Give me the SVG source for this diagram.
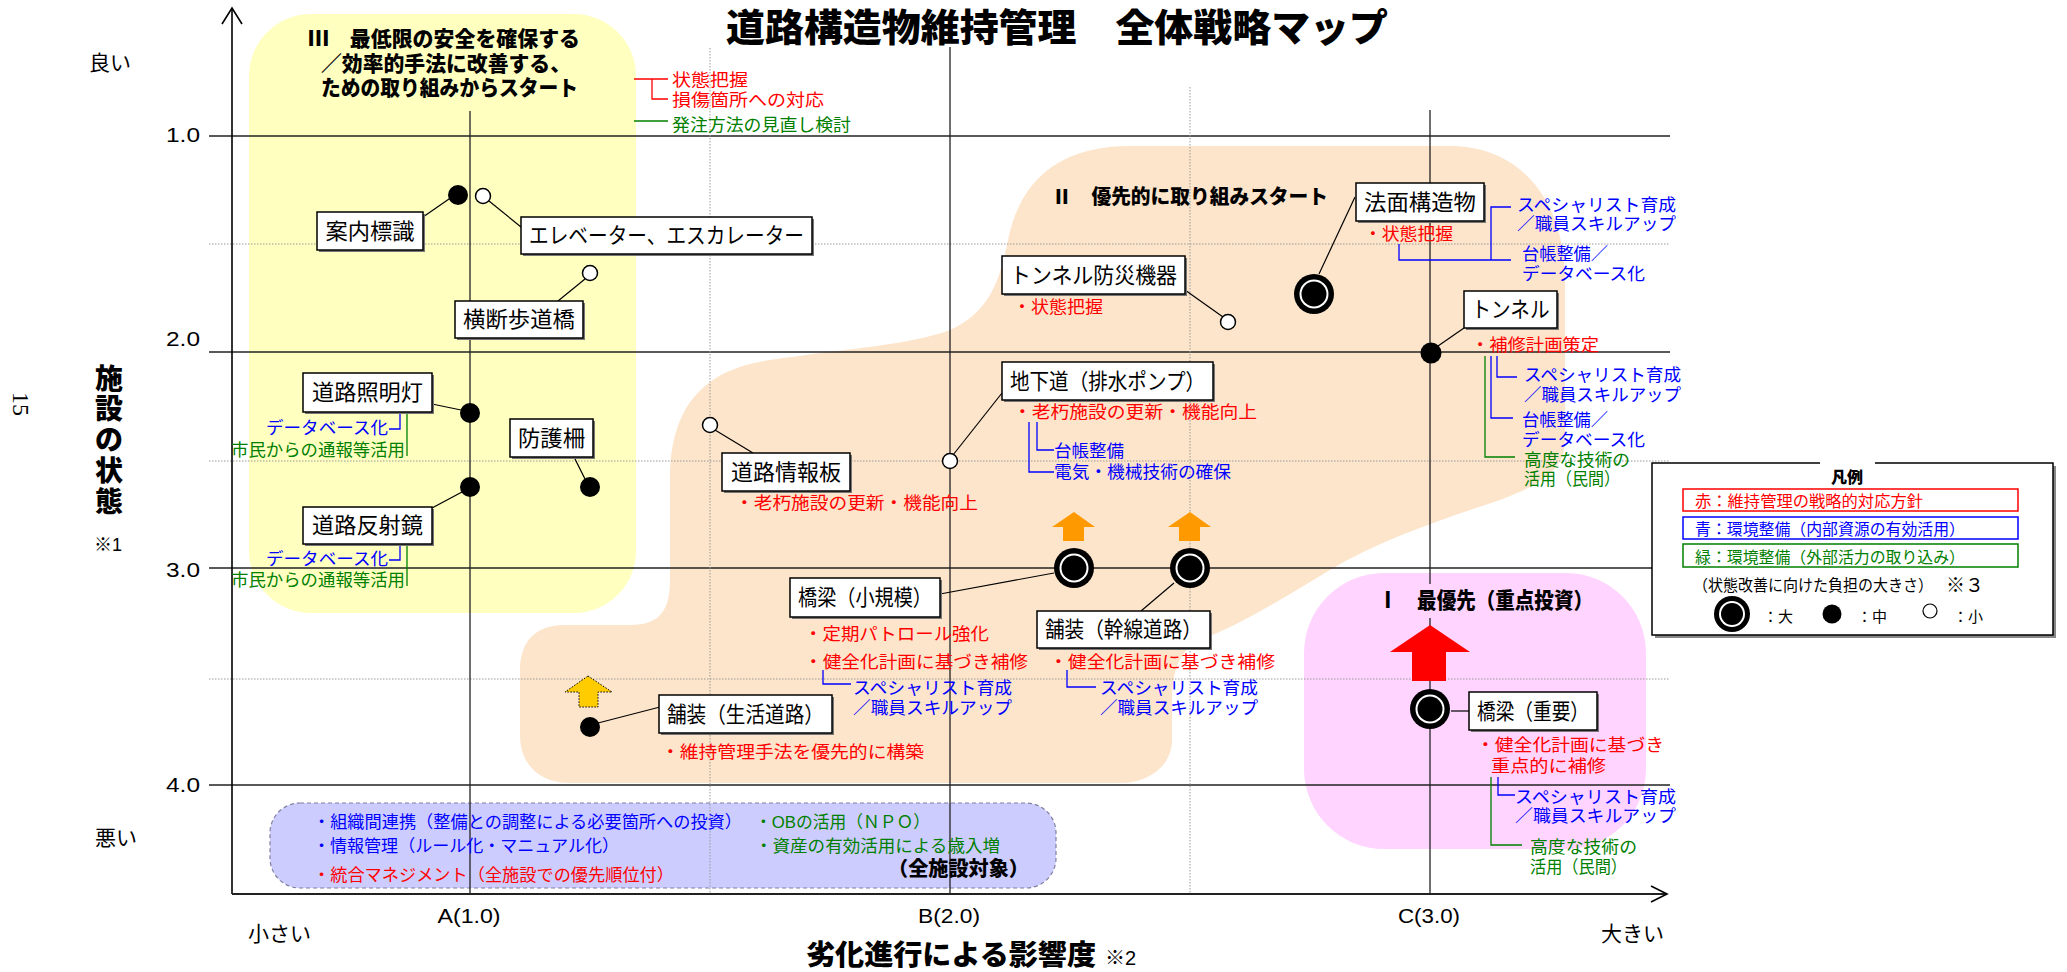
<svg xmlns="http://www.w3.org/2000/svg" width="2067" height="972" viewBox="0 0 2067 972">
<defs>
<style>
text{font-family:"Liberation Sans","Noto Sans CJK JP",sans-serif;}
.box{fill:#fff;stroke:#000;stroke-width:1.5}
.sh{fill:#777}
.lbl{font-size:22px;fill:#000;text-anchor:middle}
.ann{font-size:17.5px}
.sm{font-size:17px}
.r{fill:#f00}.b{fill:#00f}.g{fill:#008000}.k{fill:#000}
.bold{font-weight:900}
.lead{stroke:#000;stroke-width:1.2;fill:none}
.br-r{stroke:#f00;stroke-width:1.3;fill:none}
.br-b{stroke:#00f;stroke-width:1.3;fill:none}
.br-g{stroke:#008000;stroke-width:1.3;fill:none}
.grid{stroke:#222;stroke-width:1.3}
.dot{stroke:#999;stroke-width:1;stroke-dasharray:1.5 1.5}
.mid{fill:#000}
.small{fill:#fff;stroke:#000;stroke-width:1.5}
.ax{font-size:21px;fill:#000}
</style>
<g id="big">
<circle r="20" fill="#000"/><circle r="14.5" fill="#fff"/><circle r="12.5" fill="#000"/>
</g>
</defs>
<rect width="2067" height="972" fill="#fff"/>

<g id="regions">
<rect x="249" y="14" width="387" height="599" rx="62" fill="#FFFFC0"/>
<path d="M1130,146 L1450,146 C1520,146 1565,200 1565,280 L1565,440 C1565,470 1540,485 1500,500 C1440,520 1380,540 1330,570 C1280,600 1240,625 1200,640 C1180,650 1172,670 1172,700 L1172,740 C1172,765 1150,783 1120,783 L570,783 C540,783 520,765 520,735 L520,670 C520,642 535,625 565,625 L630,625 C660,625 670,610 670,580 L670,480 C670,410 700,370 770,360 C850,348 910,345 950,330 C990,312 1000,280 1008,240 C1020,180 1060,146 1130,146 Z" fill="#FDE5CB"/>
<rect x="1304" y="573" width="342" height="276" rx="80" fill="#FFD5FF"/>
<rect x="270" y="803" width="786" height="85" rx="30" fill="#CCCCFF" stroke="#7F7FA0" stroke-width="1.2" stroke-dasharray="4 3"/>
</g>

<g id="grid">
<line class="grid" x1="209" y1="136" x2="1670" y2="136"/>
<line class="grid" x1="209" y1="352" x2="1670" y2="352"/>
<line class="grid" x1="209" y1="568" x2="1670" y2="568"/>
<line class="grid" x1="209" y1="785" x2="1670" y2="785"/>
<line class="dot" x1="209" y1="244" x2="1670" y2="244"/>
<line class="dot" x1="209" y1="461" x2="1670" y2="461"/>
<line class="dot" x1="209" y1="679" x2="1670" y2="679"/>
<line class="grid" x1="470" y1="111" x2="470" y2="894"/>
<line class="grid" x1="950" y1="47" x2="950" y2="894"/>
<line class="grid" x1="1430" y1="110" x2="1430" y2="894"/>
<line class="dot" x1="710" y1="48" x2="710" y2="894"/>
<line class="dot" x1="1190" y1="87" x2="1190" y2="894"/>
</g>

<g id="axes">
<line x1="232" y1="894" x2="232" y2="8" stroke="#000" stroke-width="1.6"/>
<path d="M222,24 L232,8 L242,24" fill="none" stroke="#000" stroke-width="1.6"/>
<line x1="232" y1="894" x2="1667" y2="894" stroke="#222" stroke-width="2.2"/>
<path d="M1651,886 L1667,894 L1651,902" fill="none" stroke="#000" stroke-width="1.6"/>
</g>

<g id="axis-labels">
<text class="ax" x="89" y="70" font-size="20">良い</text>
<text class="ax" x="95" y="845" font-size="20">悪い</text>
<text class="ax" x="200" y="142" text-anchor="end" textLength="34" lengthAdjust="spacingAndGlyphs">1.0</text>
<text class="ax" x="200" y="346" text-anchor="end" textLength="34" lengthAdjust="spacingAndGlyphs">2.0</text>
<text class="ax" x="200" y="577" text-anchor="end" textLength="34" lengthAdjust="spacingAndGlyphs">3.0</text>
<text class="ax" x="200" y="792" text-anchor="end" textLength="34" lengthAdjust="spacingAndGlyphs">4.0</text>
<text class="bold" x="109" font-size="28" text-anchor="middle" fill="#000"><tspan x="109" y="389">施</tspan><tspan x="109" y="419">設</tspan><tspan x="109" y="450">の</tspan><tspan x="109" y="481">状</tspan><tspan x="109" y="512">態</tspan></text>
<text x="94" y="551" font-size="18" fill="#000">※1</text>
<text transform="translate(13,404) rotate(90)" text-anchor="middle" font-size="24" fill="#000" style="font-family:'Liberation Serif',serif">15</text>
<text class="ax" x="248" y="941" font-size="20">小さい</text>
<text class="ax" x="469" y="923" font-size="20" text-anchor="middle" textLength="63" lengthAdjust="spacingAndGlyphs">A(1.0)</text>
<text class="ax" x="949" y="923" font-size="20" text-anchor="middle" textLength="62" lengthAdjust="spacingAndGlyphs">B(2.0)</text>
<text class="ax" x="1429" y="923" font-size="20" text-anchor="middle" textLength="62" lengthAdjust="spacingAndGlyphs">C(3.0)</text>
<text class="ax" x="1601" y="941" font-size="20">大きい</text>
<text class="bold" x="806" y="965" font-size="28" fill="#000" textLength="290" lengthAdjust="spacingAndGlyphs">劣化進行による影響度</text>
<text x="1105" y="965" font-size="20" fill="#000">※2</text>
</g>

<g id="title">
<text x="726" y="41" font-size="38" font-weight="900" fill="#000" textLength="662" lengthAdjust="spacingAndGlyphs">道路構造物維持管理　全体戦略マップ</text>
</g>

<g id="zone-3">
<text class="bold k" font-size="21"><tspan x="308" y="46" textLength="272" lengthAdjust="spacingAndGlyphs">Ⅲ　最低限の安全を確保する</tspan><tspan x="321" y="71" textLength="250" lengthAdjust="spacingAndGlyphs">／効率的手法に改善する、</tspan><tspan x="321" y="95" textLength="257" lengthAdjust="spacingAndGlyphs">ための取り組みからスタート</tspan></text>
<text class="ann"><tspan class="r" x="672" y="86" textLength="76" lengthAdjust="spacingAndGlyphs">状態把握</tspan><tspan class="r" x="672" y="106" textLength="152" lengthAdjust="spacingAndGlyphs">損傷箇所への対応</tspan><tspan class="g" x="672" y="131" textLength="179" lengthAdjust="spacingAndGlyphs">発注方法の見直し検討</tspan></text>
</g>

<g id="zone-2">
<text class="bold k" x="1052" y="204" font-size="20" textLength="276" lengthAdjust="spacingAndGlyphs">Ⅱ　優先的に取り組みスタート</text>
</g>

<g id="zone-1">
<rect x="1372" y="584" width="226" height="34" fill="#FFD5FF"/>
<text class="bold k" x="1378" y="608" font-size="22" textLength="215" lengthAdjust="spacingAndGlyphs">Ⅰ　最優先（重点投資）</text>
<path d="M1430,625 L1470,652 L1446,652 L1446,681 L1412,681 L1412,652 L1390,652 Z" fill="#f00"/>
</g>

<g id="connectors">
<line class="lead" x1="423" y1="217" x2="449" y2="199"/>
<line class="lead" x1="489" y1="201" x2="521" y2="227"/>
<line class="lead" x1="558" y1="301" x2="585" y2="279"/>
<line class="lead" x1="432" y1="404" x2="461" y2="410"/>
<line class="lead" x1="574" y1="457" x2="585" y2="479"/>
<line class="lead" x1="432" y1="508" x2="462" y2="492"/>
<line class="lead" x1="715" y1="430" x2="753" y2="453"/>
<line class="lead" x1="953" y1="455" x2="1002" y2="393"/>
<line class="lead" x1="1185" y1="290" x2="1223" y2="317"/>
<line class="lead" x1="1319" y1="274" x2="1355" y2="197"/>
<line class="lead" x1="1464" y1="328" x2="1438" y2="346"/>
<line class="lead" x1="940" y1="594" x2="1054" y2="573"/>
<line class="lead" x1="1174" y1="583" x2="1141" y2="611"/>
<line class="lead" x1="598" y1="723" x2="660" y2="707"/>
<line class="lead" x1="1451" y1="711" x2="1469" y2="711"/>
<path class="br-r" d="M634,79 H668 M652,79 V99 H668"/>
<path class="br-g" d="M634,121 H668"/>
<path class="br-b" d="M389,429 H400 V412"/>
<path class="br-g" d="M407,412 V456"/>
<path class="br-b" d="M389,560 H400 V544"/>
<path class="br-g" d="M407,544 V586"/>
<path class="br-b" d="M1037,422 V450 H1054 M1029,422 V472 H1054"/>
<path class="br-b" d="M1399,244 V260 H1511 M1491,260 V207 H1511"/>
<path class="br-b" d="M1497,356 V377 H1517 M1491,356 V418 H1513"/>
<path class="br-g" d="M1485,356 V457 H1515"/>
<path class="br-b" d="M823,670 V684 H851"/>
<path class="br-b" d="M1067,670 V687 H1096"/>
<path class="br-b" d="M1498,777 V795 H1515"/>
<path class="br-g" d="M1491,777 V845 H1522"/>
</g>

<g id="node-annai">
<rect class="sh" x="319" y="214" width="106" height="38"/>
<rect class="box" x="317" y="212" width="106" height="38"/>
<text class="lbl" x="370" y="239" textLength="89" lengthAdjust="spacingAndGlyphs">案内標識</text>
<circle class="mid" cx="458" cy="195" r="10"/>
</g>
<g id="node-elevator">
<rect class="sh" x="523" y="219" width="291" height="37"/>
<rect class="box" x="521" y="217" width="291" height="37"/>
<text class="lbl" x="666.5" y="243" textLength="275" lengthAdjust="spacingAndGlyphs">エレベーター、エスカレーター</text>
<circle class="small" cx="483" cy="196" r="7.5"/>
</g>
<g id="node-oudan">
<rect class="sh" x="457" y="303" width="128" height="37"/>
<rect class="box" x="455" y="301" width="128" height="37"/>
<text class="lbl" x="519" y="327" textLength="112" lengthAdjust="spacingAndGlyphs">横断歩道橋</text>
<circle class="small" cx="590" cy="273" r="7.5"/>
</g>
<g id="node-shoumei">
<rect class="sh" x="305" y="375" width="129" height="39"/>
<rect class="box" x="303" y="373" width="129" height="39"/>
<text class="lbl" x="367.5" y="400" textLength="111" lengthAdjust="spacingAndGlyphs">道路照明灯</text>
<circle class="mid" cx="470" cy="413" r="10"/>
<text class="sm"><tspan class="b" x="266" y="434" textLength="122" lengthAdjust="spacingAndGlyphs">データベース化</tspan><tspan class="g" x="231" y="456" textLength="174" lengthAdjust="spacingAndGlyphs">市民からの通報等活用</tspan></text>
</g>
<g id="node-bougo">
<rect class="sh" x="512" y="421" width="83" height="38"/>
<rect class="box" x="510" y="419" width="83" height="38"/>
<text class="lbl" x="551.5" y="446" textLength="67" lengthAdjust="spacingAndGlyphs">防護柵</text>
<circle class="mid" cx="590" cy="487" r="10"/>
</g>
<g id="node-hansha">
<rect class="sh" x="305" y="509" width="129" height="37"/>
<rect class="box" x="303" y="507" width="129" height="37"/>
<text class="lbl" x="367.5" y="533" textLength="111" lengthAdjust="spacingAndGlyphs">道路反射鏡</text>
<circle class="mid" cx="470" cy="487" r="10"/>
<text class="sm"><tspan class="b" x="266" y="565" textLength="122" lengthAdjust="spacingAndGlyphs">データベース化</tspan><tspan class="g" x="231" y="586" textLength="174" lengthAdjust="spacingAndGlyphs">市民からの通報等活用</tspan></text>
</g>

<g id="node-jouhouban">
<rect class="sh" x="724" y="455" width="128" height="38"/>
<rect class="box" x="722" y="453" width="128" height="38"/>
<text class="lbl" x="786" y="480" textLength="110" lengthAdjust="spacingAndGlyphs">道路情報板</text>
<circle class="small" cx="710" cy="425" r="7.5"/>
<text class="ann r" x="735" y="509" textLength="243" lengthAdjust="spacingAndGlyphs">・老朽施設の更新・機能向上</text>
</g>
<g id="node-chikadou">
<rect class="sh" x="1004" y="364" width="211" height="38"/>
<rect class="box" x="1002" y="362" width="211" height="38"/>
<text class="lbl" x="1107.5" y="389" textLength="195" lengthAdjust="spacingAndGlyphs">地下道（排水ポンプ）</text>
<circle class="small" cx="950" cy="461" r="7.5"/>
<text class="ann"><tspan class="r" x="1013" y="418" textLength="244" lengthAdjust="spacingAndGlyphs">・老朽施設の更新・機能向上</tspan><tspan class="b" x="1054" y="457" textLength="70" lengthAdjust="spacingAndGlyphs">台帳整備</tspan><tspan class="b" x="1054" y="478" textLength="177" lengthAdjust="spacingAndGlyphs">電気・機械技術の確保</tspan></text>
</g>
<g id="node-bousai">
<rect class="sh" x="1004" y="258" width="183" height="38"/>
<rect class="box" x="1002" y="256" width="183" height="38"/>
<text class="lbl" x="1093.5" y="283" textLength="167" lengthAdjust="spacingAndGlyphs">トンネル防災機器</text>
<circle class="small" cx="1228" cy="322" r="7.5"/>
<text class="ann r" x="1013" y="313" textLength="90" lengthAdjust="spacingAndGlyphs">・状態把握</text>
</g>
<g id="node-houmen">
<rect class="sh" x="1358" y="185" width="128" height="38"/>
<rect class="box" x="1356" y="183" width="128" height="38"/>
<text class="lbl" x="1420" y="210" textLength="112" lengthAdjust="spacingAndGlyphs">法面構造物</text>
<use href="#big" x="1314" y="294"/>
<text class="ann r" x="1364" y="240" textLength="89" lengthAdjust="spacingAndGlyphs">・状態把握</text>
<text class="ann b"><tspan x="1517" y="211" textLength="159" lengthAdjust="spacingAndGlyphs">スペシャリスト育成</tspan><tspan x="1517" y="230" textLength="159" lengthAdjust="spacingAndGlyphs">／職員スキルアップ</tspan><tspan x="1522" y="260" textLength="86" lengthAdjust="spacingAndGlyphs">台帳整備／</tspan><tspan x="1522" y="280" textLength="123" lengthAdjust="spacingAndGlyphs">データベース化</tspan></text>
</g>
<g id="node-tunnel">
<rect class="sh" x="1466" y="293" width="93" height="37"/>
<rect class="box" x="1464" y="291" width="93" height="37"/>
<text class="lbl" x="1510.5" y="317" textLength="78" lengthAdjust="spacingAndGlyphs">トンネル</text>
<circle class="mid" cx="1431" cy="353" r="10.5"/>
<text class="ann"><tspan class="r" x="1471" y="351" textLength="128" lengthAdjust="spacingAndGlyphs">・補修計画策定</tspan><tspan class="b" x="1524" y="381" textLength="157" lengthAdjust="spacingAndGlyphs">スペシャリスト育成</tspan><tspan class="b" x="1524" y="401" textLength="157" lengthAdjust="spacingAndGlyphs">／職員スキルアップ</tspan><tspan class="b" x="1522" y="426" textLength="86" lengthAdjust="spacingAndGlyphs">台帳整備／</tspan><tspan class="b" x="1522" y="446" textLength="123" lengthAdjust="spacingAndGlyphs">データベース化</tspan><tspan class="g" x="1524" y="466" textLength="106" lengthAdjust="spacingAndGlyphs">高度な技術の</tspan><tspan class="g" x="1524" y="485" textLength="96" lengthAdjust="spacingAndGlyphs">活用（民間）</tspan></text>
</g>
<g id="node-kyouryou-small">
<path d="M1074,512 L1095,527 L1084,527 L1084,541 L1063,541 L1063,527 L1052,527 Z" fill="#FF9900"/>
<rect class="sh" x="792" y="580" width="150" height="39"/>
<rect class="box" x="790" y="578" width="150" height="39"/>
<text class="lbl" x="865" y="605" textLength="134" lengthAdjust="spacingAndGlyphs">橋梁（小規模）</text>
<use href="#big" x="1074" y="568"/>
<text class="ann"><tspan class="r" x="804" y="640" textLength="185" lengthAdjust="spacingAndGlyphs">・定期パトロール強化</tspan><tspan class="r" x="804" y="668" textLength="224" lengthAdjust="spacingAndGlyphs">・健全化計画に基づき補修</tspan><tspan class="b" x="853" y="694" textLength="159" lengthAdjust="spacingAndGlyphs">スペシャリスト育成</tspan><tspan class="b" x="853" y="714" textLength="159" lengthAdjust="spacingAndGlyphs">／職員スキルアップ</tspan></text>
</g>
<g id="node-hosou-kansen">
<path d="M1190,512 L1211,527 L1200,527 L1200,541 L1179,541 L1179,527 L1168,527 Z" fill="#FF9900"/>
<rect class="sh" x="1039" y="613" width="173" height="37"/>
<rect class="box" x="1037" y="611" width="173" height="37"/>
<text class="lbl" x="1123.5" y="637" textLength="157" lengthAdjust="spacingAndGlyphs">舗装（幹線道路）</text>
<use href="#big" x="1190" y="568"/>
<text class="ann"><tspan class="r" x="1049" y="668" textLength="226" lengthAdjust="spacingAndGlyphs">・健全化計画に基づき補修</tspan><tspan class="b" x="1100" y="694" textLength="158" lengthAdjust="spacingAndGlyphs">スペシャリスト育成</tspan><tspan class="b" x="1100" y="714" textLength="158" lengthAdjust="spacingAndGlyphs">／職員スキルアップ</tspan></text>
</g>
<g id="node-hosou-seikatsu">
<path d="M588,676 L612,692 L598,692 L598,707 L579,707 L579,692 L565,692 Z" fill="#FFCC00" stroke="#000" stroke-width="1" stroke-dasharray="1.5 1.5"/>
<rect class="sh" x="661" y="697" width="173" height="38"/>
<rect class="box" x="659" y="695" width="173" height="38"/>
<text class="lbl" x="745.5" y="722" textLength="157" lengthAdjust="spacingAndGlyphs">舗装（生活道路）</text>
<circle class="mid" cx="590" cy="727" r="10"/>
<text class="ann r" x="661" y="758" textLength="263" lengthAdjust="spacingAndGlyphs">・維持管理手法を優先的に構築</text>
</g>
<g id="node-kyouryou-juuyou">
<rect class="sh" x="1471" y="694" width="128" height="38"/>
<rect class="box" x="1469" y="692" width="128" height="38"/>
<text class="lbl" x="1533" y="719" textLength="112" lengthAdjust="spacingAndGlyphs">橋梁（重要）</text>
<use href="#big" x="1430" y="709"/>
<text class="ann"><tspan class="r" x="1476" y="751" textLength="188" lengthAdjust="spacingAndGlyphs">・健全化計画に基づき</tspan><tspan class="r" x="1491" y="772" textLength="115" lengthAdjust="spacingAndGlyphs">重点的に補修</tspan><tspan class="b" x="1515" y="803" textLength="161" lengthAdjust="spacingAndGlyphs">スペシャリスト育成</tspan><tspan class="b" x="1515" y="822" textLength="161" lengthAdjust="spacingAndGlyphs">／職員スキルアップ</tspan><tspan class="g" x="1530" y="853" textLength="107" lengthAdjust="spacingAndGlyphs">高度な技術の</tspan><tspan class="g" x="1530" y="873" textLength="97" lengthAdjust="spacingAndGlyphs">活用（民間）</tspan></text>
</g>

<g id="all-facilities">
<text font-size="17"><tspan class="b" x="313" y="828" textLength="429" lengthAdjust="spacingAndGlyphs">・組織間連携（整備との調整による必要箇所への投資）</tspan><tspan class="g" x="755" y="828" textLength="175" lengthAdjust="spacingAndGlyphs">・OBの活用（ＮＰＯ）</tspan><tspan class="b" x="313" y="852" textLength="306" lengthAdjust="spacingAndGlyphs">・情報管理（ルール化・マニュアル化）</tspan><tspan class="g" x="755" y="852" textLength="245" lengthAdjust="spacingAndGlyphs">・資産の有効活用による歳入増</tspan><tspan class="r" x="313" y="881" textLength="361" lengthAdjust="spacingAndGlyphs">・統合マネジメント（全施設での優先順位付）</tspan><tspan class="k bold" x="888" y="876" font-size="20" textLength="141" lengthAdjust="spacingAndGlyphs">（全施設対象）</tspan></text>
</g>

<g id="legend">
<rect x="1655" y="466" width="401" height="172" fill="#888"/>
<rect x="1652" y="463" width="401" height="172" fill="#fff" stroke="#000" stroke-width="1.5"/>
<rect x="1820" y="461" width="55" height="4" fill="#fff"/>
<text class="k bold" x="1847" y="483" font-size="16" text-anchor="middle">凡例</text>
<rect x="1683" y="489" width="335" height="22" fill="#fff" stroke="#f00" stroke-width="1.5"/>
<text class="r" x="1695" y="507" font-size="16" textLength="228" lengthAdjust="spacingAndGlyphs">赤：維持管理の戦略的対応方針</text>
<rect x="1683" y="517" width="335" height="22" fill="#fff" stroke="#00f" stroke-width="1.5"/>
<text class="b" x="1695" y="535" font-size="16" textLength="270" lengthAdjust="spacingAndGlyphs">青：環境整備（内部資源の有効活用）</text>
<rect x="1683" y="544" width="335" height="23" fill="#fff" stroke="#008000" stroke-width="1.5"/>
<text class="g" x="1695" y="563" font-size="16" textLength="270" lengthAdjust="spacingAndGlyphs">緑：環境整備（外部活力の取り込み）</text>
<text class="k" font-size="16"><tspan x="1693" y="591" textLength="240" lengthAdjust="spacingAndGlyphs">（状態改善に向けた負担の大きさ）</tspan><tspan x="1946" y="592" font-size="19">※３</tspan></text>
<circle cx="1732" cy="614" r="18" fill="#000"/><circle cx="1732" cy="614" r="13" fill="#fff"/><circle cx="1732" cy="614" r="11" fill="#000"/>
<circle cx="1832" cy="614" r="9.5" fill="#000"/>
<circle cx="1930" cy="611" r="7" fill="#fff" stroke="#000" stroke-width="1.2"/>
<text class="k" font-size="15"><tspan x="1763" y="622">：大</tspan><tspan x="1857" y="622">：中</tspan><tspan x="1953" y="622">：小</tspan></text>
</g>
</svg>
